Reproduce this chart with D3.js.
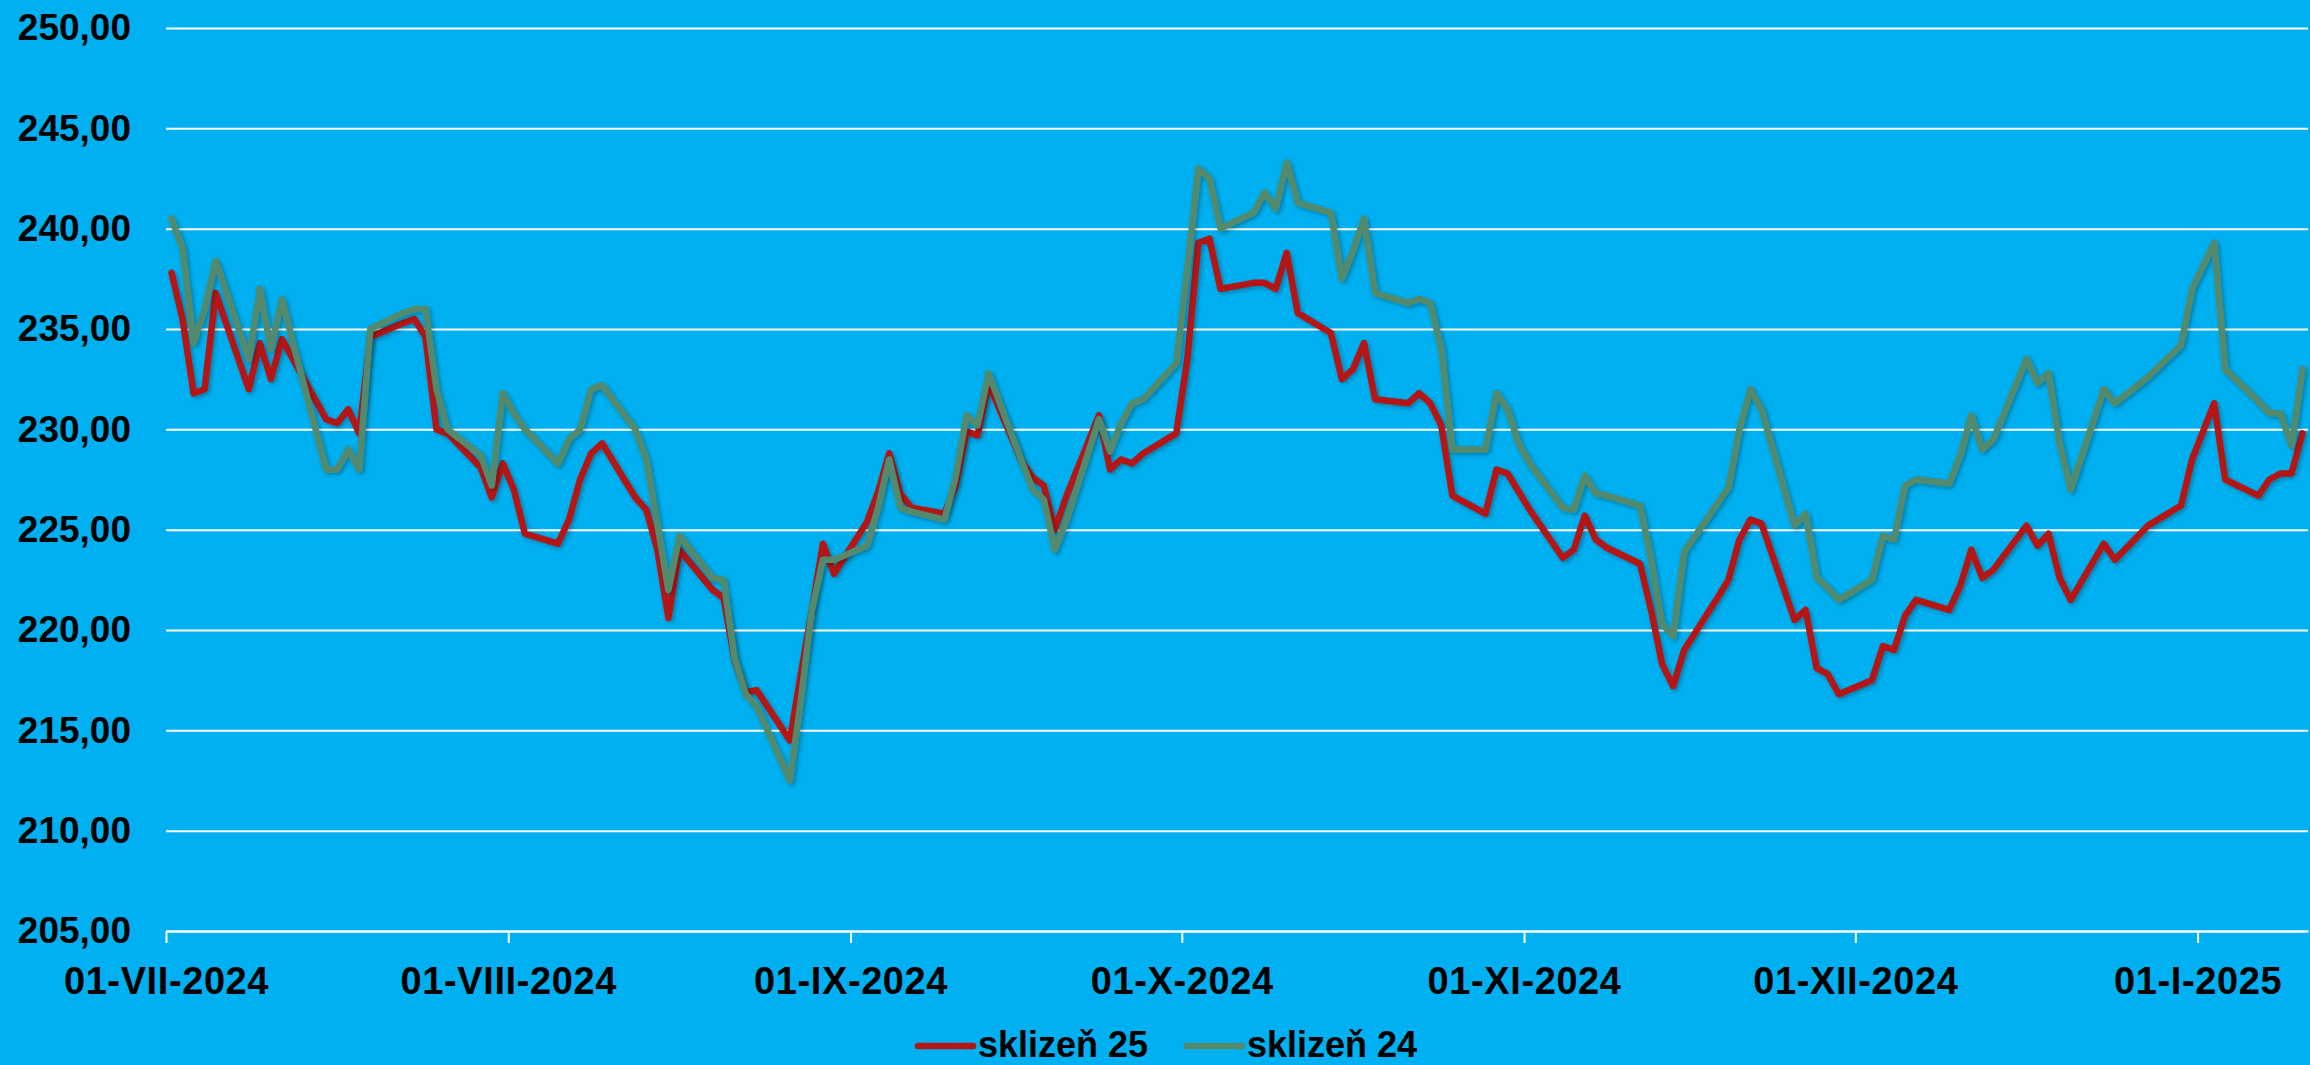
<!DOCTYPE html>
<html>
<head>
<meta charset="utf-8">
<script src="https://cdn.jsdelivr.net/npm/d3@7"></script>
<style>
  html, body { margin: 0; padding: 0; background: #00b0f0; overflow: hidden; }
  svg { display: block; }
</style>
</head>
<body>
<script>
// trading days shown in the chart
const dates = [
    '2024-07-01','2024-07-02','2024-07-03','2024-07-04','2024-07-05','2024-07-08','2024-07-09','2024-07-10','2024-07-11','2024-07-12',
    '2024-07-15','2024-07-16','2024-07-17','2024-07-18','2024-07-19','2024-07-22','2024-07-23','2024-07-24','2024-07-25','2024-07-26',
    '2024-07-29','2024-07-30','2024-07-31',
    '2024-08-01','2024-08-02','2024-08-05','2024-08-06','2024-08-07','2024-08-08','2024-08-09','2024-08-12','2024-08-13','2024-08-14',
    '2024-08-15','2024-08-16','2024-08-19','2024-08-20','2024-08-21','2024-08-22','2024-08-23','2024-08-26','2024-08-27','2024-08-28',
    '2024-08-29','2024-08-30',
    '2024-09-02','2024-09-03','2024-09-04','2024-09-05','2024-09-06','2024-09-09','2024-09-10','2024-09-11','2024-09-12','2024-09-13',
    '2024-09-16','2024-09-17','2024-09-18','2024-09-19','2024-09-20','2024-09-23','2024-09-24','2024-09-25','2024-09-26','2024-09-27',
    '2024-09-30',
    '2024-10-01','2024-10-02','2024-10-03','2024-10-04','2024-10-07','2024-10-08','2024-10-09','2024-10-10','2024-10-11','2024-10-14',
    '2024-10-15','2024-10-16','2024-10-17','2024-10-18','2024-10-21','2024-10-22','2024-10-23','2024-10-24','2024-10-25','2024-10-28',
    '2024-10-29','2024-10-30','2024-10-31',
    '2024-11-01','2024-11-04','2024-11-05','2024-11-06','2024-11-07','2024-11-08','2024-11-11','2024-11-12','2024-11-13','2024-11-14',
    '2024-11-15','2024-11-18','2024-11-19','2024-11-20','2024-11-21','2024-11-22','2024-11-25','2024-11-26','2024-11-27','2024-11-28',
    '2024-11-29',
    '2024-12-02','2024-12-03','2024-12-04','2024-12-05','2024-12-06','2024-12-09','2024-12-10','2024-12-11','2024-12-12','2024-12-13',
    '2024-12-16','2024-12-17','2024-12-18','2024-12-19','2024-12-20','2024-12-23','2024-12-24','2024-12-27','2024-12-30','2024-12-31',
    '2025-01-02','2025-01-03','2025-01-06','2025-01-07','2025-01-08','2025-01-09','2025-01-10'
]

const sklizen25 = [
    237.8, 235.5, 231.8, 232.0, 236.8, 232.0, 234.3, 232.5, 234.5, 233.5,
    230.5, 230.3, 231.0, 229.8, 234.6, 235.3, 235.5, 234.6, 230.0, 229.8,
    228.1, 226.6, 228.3,
    227.0, 224.8, 224.3, 225.5, 227.5, 228.8, 229.3, 226.6, 226.0, 224.0,
    220.6, 224.0, 222.0, 221.6, 218.5, 216.9, 217.0, 214.5, 217.8, 221.0,
    224.3, 222.8,
    225.4, 226.9, 228.8, 226.8, 226.1, 225.8, 227.2, 229.9, 229.7, 232.3,
    228.4, 227.6, 227.2, 225.0, 226.6, 230.7, 228.0, 228.5, 228.3, 228.8,
    229.8,
    233.5, 239.3, 239.5, 237.0, 237.3, 237.3, 237.0, 238.8, 235.8, 234.8,
    232.5, 233.0, 234.3, 231.5, 231.3, 231.8, 231.3, 230.2, 226.7, 225.8,
    228.0, 227.8, 226.9,
    226.0, 223.6, 224.0, 225.7, 224.5, 224.1, 223.3, 221.0, 218.3, 217.2,
    219.0, 221.6, 222.5, 224.5, 225.5, 225.3, 220.5, 221.0, 218.1, 217.8,
    216.8,
    217.5, 219.2, 219.0, 220.7, 221.5, 221.0, 222.2, 224.0, 222.6, 223.0,
    225.2, 224.2, 224.8, 222.6, 221.5, 224.3, 223.5, 225.2, 226.2, 228.5,
    231.3, 227.5, 226.7, 227.5, 227.8, 227.8, 229.8
]

const sklizen24 = [
    240.5, 239.0, 234.3, 236.0, 238.4, 233.5, 237.0, 234.0, 236.5, 234.3,
    228.0, 228.0, 229.0, 228.0, 235.0, 235.8, 236.0, 236.0, 232.0, 230.0,
    228.7, 227.2, 231.8,
    230.8, 230.0, 228.3, 229.5, 230.0, 232.0, 232.2, 230.0, 228.5, 225.3,
    222.0, 224.7, 222.6, 222.5, 218.6, 216.8, 216.2, 212.5, 216.5, 221.0,
    223.5, 223.5,
    224.2, 226.1, 228.5, 226.1, 225.9, 225.5, 227.6, 230.7, 230.2, 232.8,
    228.4, 227.0, 226.5, 224.0, 225.4, 230.5, 228.9, 230.3, 231.3, 231.5,
    233.3,
    238.0, 243.0, 242.5, 240.0, 240.8, 241.8, 241.0, 243.3, 241.3, 240.8,
    237.5, 238.9, 240.5, 236.8, 236.3, 236.5, 236.3, 234.0, 229.0, 229.0,
    231.8, 231.0, 229.3,
    228.3, 226.1, 226.0, 227.7, 226.8, 226.7, 226.2, 223.5, 220.3, 219.7,
    223.9, 226.3, 227.1, 230.0, 232.0, 231.0, 225.2, 225.8, 222.6, 222.1,
    221.5,
    222.5, 224.7, 224.5, 227.2, 227.5, 227.3, 228.7, 230.7, 229.0, 229.5,
    233.5, 232.3, 232.8, 229.3, 227.0, 232.0, 231.3, 232.6, 234.2, 237.0,
    239.3, 233.0, 231.4, 230.8, 230.8, 229.2, 233.0
]

const yTicks = [205, 210, 215, 220, 225, 230, 235, 240, 245, 250]
const monthTicks = ['2024-07-01', '2024-08-01', '2024-09-01', '2024-10-01', '2024-11-01', '2024-12-01', '2025-01-01']
const monthLabels = ['01-VII-2024', '01-VIII-2024', '01-IX-2024', '01-X-2024', '01-XI-2024', '01-XII-2024', '01-I-2025']
const seriesNames = ['sklizeň 25', 'sklizeň 24']
const seriesColors = ['#b41515', '#528a6e']

const width = 2310
const height = 1065
const plotLeft = 166, plotRight = 2308, plotTop = 28, plotBottom = 931
const fontFamily = '"Liberation Sans", Arial, sans-serif'

const parse = d3.utcParse('%Y-%m-%d')

const x = d3.scaleUtc()
    .domain([parse('2024-07-01'), parse('2025-01-11')])
    .range([plotLeft, plotRight])
const y = d3.scaleLinear()
    .domain([205, 250])
    .range([plotBottom, plotTop])

const svg = d3.select('body').append('svg')
    .attr('width', width)
    .attr('height', height)

svg.append('rect')
    .attr('width', width)
    .attr('height', height)
    .attr('fill', '#00b0f0')

const defs = svg.append('defs')
defs.append('filter')
    .attr('id', 'shadow')
    .attr('x', '-5%').attr('y', '-5%').attr('width', '110%').attr('height', '110%')
    .append('feDropShadow')
    .attr('dx', 2).attr('dy', 2)
    .attr('stdDeviation', 2)
    .attr('flood-color', '#000')
    .attr('flood-opacity', 0.3)

// y axis with gridlines
const yAxis = svg.append('g')
    .attr('transform', `translate(${plotLeft},0)`)
    .call(d3.axisLeft(y)
        .tickValues(yTicks)
        .tickSize(-(plotRight - plotLeft))
        .tickPadding(35)
        .tickFormat(d => d3.format('.2f')(d).replace('.', ',')))
yAxis.select('.domain').remove()
yAxis.selectAll('.tick line')
    .attr('stroke', '#fff')
    .attr('stroke-width', 2)
yAxis.selectAll('.tick text')
    .attr('fill', '#000')
    .attr('font-family', fontFamily)
    .attr('font-weight', 'bold')
    .attr('font-size', 37)

// x axis
const xAxis = svg.append('g')
    .attr('transform', `translate(0,${plotBottom})`)
    .call(d3.axisBottom(x)
        .tickValues(monthTicks.map(parse))
        .tickSize(12)
        .tickSizeOuter(0)
        .tickPadding(24)
        .tickFormat((d, i) => monthLabels[i]))
xAxis.select('.domain')
    .attr('stroke', '#fff')
    .attr('stroke-width', 2)
xAxis.selectAll('.tick line')
    .attr('stroke', '#fff')
    .attr('stroke-width', 2)
xAxis.selectAll('.tick text')
    .attr('fill', '#000')
    .attr('font-family', fontFamily)
    .attr('font-weight', 'bold')
    .attr('font-size', 38)
    .attr('letter-spacing', 0.6)

// points sit in the middle of their day, like Excel's date axis
const line = d3.line()
    .x(d => x(d3.utcHour.offset(d.date, 12)))
    .y(d => y(d.value))

const series = [sklizen25, sklizen24].map((values, i) => ({
    name: seriesNames[i],
    color: seriesColors[i],
    points: values.map((v, j) => ({ date: parse(dates[j]), value: v }))
}))

svg.append('g')
    .selectAll('path')
    .data(series)
    .join('path')
    .attr('d', d => line(d.points))
    .attr('fill', 'none')
    .attr('stroke', d => d.color)
    .attr('stroke-width', 6.5)
    .attr('stroke-linejoin', 'round')
    .attr('stroke-linecap', 'round')
    .attr('filter', 'url(#shadow)')

// legend
const legendX = [918, 1187]
const legend = svg.append('g')
    .selectAll('g')
    .data(series)
    .join('g')
    .attr('transform', (d, i) => `translate(${legendX[i]},1046)`)
legend.append('line')
    .attr('x1', 0).attr('x2', 55)
    .attr('y1', 0).attr('y2', 0)
    .attr('stroke', d => d.color)
    .attr('stroke-width', 6.5)
    .attr('stroke-linecap', 'round')
legend.append('text')
    .attr('x', 60)
    .attr('y', 11)
    .attr('fill', '#000')
    .attr('font-family', fontFamily)
    .attr('font-weight', 'bold')
    .attr('font-size', 36)
    .text(d => d.name)
</script>
</body>
</html>
